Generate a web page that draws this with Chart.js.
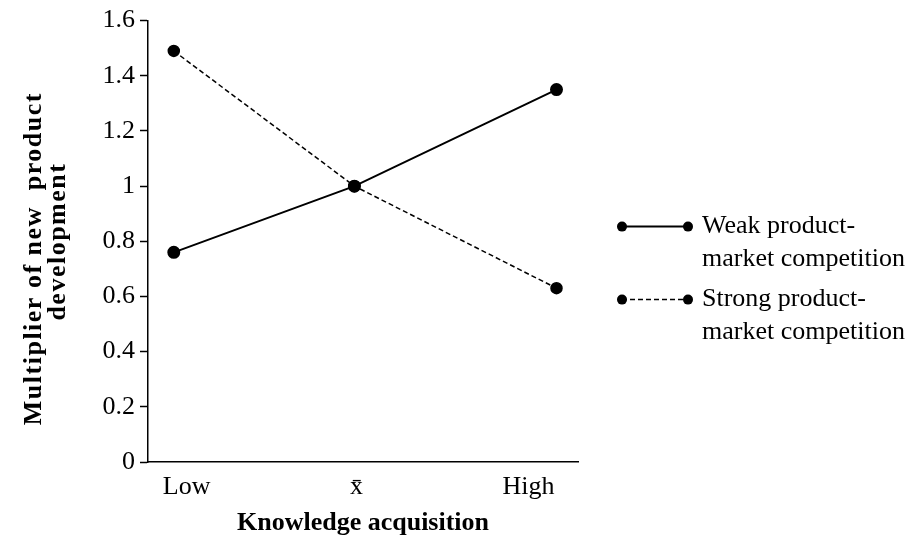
<!DOCTYPE html>
<html>
<head>
<meta charset="utf-8">
<script src="https://cdn.jsdelivr.net/npm/chart.js@4"></script>
<style>
  body { margin: 0; background: #fff; }
  #wrap { width: 918px; height: 539px; }
</style>
</head>
<body>
<div id="wrap"><canvas id="myChart" width="918" height="539"></canvas></div>
<script>
'use strict';

// data
var levelNames = ['Low', 'x\u0304', 'High'];
var levelPos = [0.6, 4.8, 9.5];        // where the points sit on the x axis
var labelPos = [0.9, 4.85, 8.85];      // where the level labels sit
var weakValues = [0.76, 1.0, 1.35];
var strongValues = [1.49, 1.0, 0.63];
var seriesNames = [['Weak product-', 'market competition'], ['Strong product-', 'market competition']];
var yTitle = ['Multiplier of new  product', 'development'];
var yTicks = [0, 0.2, 0.4, 0.6, 0.8, 1, 1.2, 1.4, 1.6];

var FONT = '"Liberation Serif", "Times New Roman", serif';

function pairUp(values) {
  var out = [];
  for (var i = 0; i < values.length; i++) {
    out.push({ x: levelPos[i], y: values[i] });
  }
  return out;
}

// legend with a dot at each end of the sample line, text on two lines
// (also draws the y title, it is letter-spaced wider than chart.js does)
var sideLegend = {
  id: 'sideLegend',
  afterDraw: function(chart) {
    var ctx = chart.ctx;
    var area = chart.chartArea;
    var rows = [206, 279];
    ctx.save();
    chart.data.datasets.forEach(function(ds, i) {
      var y = area.top + rows[i];
      var x1 = area.right + 44, x2 = area.right + 110;
      ctx.strokeStyle = '#000';
      ctx.lineWidth = ds.borderWidth;
      ctx.setLineDash(ds.borderDash || []);
      ctx.beginPath();
      ctx.moveTo(x1, y);
      ctx.lineTo(x2, y);
      ctx.stroke();
      ctx.setLineDash([]);
      ctx.fillStyle = '#000';
      [x1, x2].forEach(function(x) {
        ctx.beginPath();
        ctx.arc(x, y, 5, 0, Math.PI * 2);
        ctx.fill();
      });
      ctx.font = '26px ' + FONT;
      ctx.textBaseline = 'middle';
      ctx.textAlign = 'left';
      seriesNames[i].forEach(function(line, j) {
        ctx.fillText(line, x2 + 14, y + j * 33);
      });
    });
    ctx.restore();

    // y title
    var mids = [238, 221];
    ctx.save();
    ctx.fillStyle = '#000';
    ctx.font = 'bold 26px ' + FONT;
    ctx.letterSpacing = '1.5px';
    ctx.textAlign = 'center';
    ctx.textBaseline = 'middle';
    yTitle.forEach(function(line, j) {
      ctx.save();
      ctx.translate(34 + j * 24, area.top + mids[j]);
      ctx.rotate(-Math.PI / 2);
      ctx.fillText(line, 0, 0);
      ctx.restore();
    });
    ctx.restore();
  }
};

var ctx = document.getElementById('myChart').getContext('2d');
new Chart(ctx, {
  type: 'scatter',
  data: {
    datasets: [{
      label: seriesNames[0].join(' '),
      data: pairUp(weakValues),
      showLine: true,
      borderColor: '#000',
      backgroundColor: '#000',
      borderWidth: 2,
      pointRadius: 5.5,
      pointHoverRadius: 5.5
    }, {
      label: seriesNames[1].join(' '),
      data: pairUp(strongValues),
      showLine: true,
      borderColor: '#000',
      backgroundColor: '#000',
      borderWidth: 1.5,
      borderDash: [5, 3],
      pointRadius: 5.5,
      pointHoverRadius: 5.5
    }]
  },
  options: {
    responsive: false,
    animation: false,
    layout: { padding: { top: 15, right: 340, left: 0, bottom: 0 } },
    plugins: {
      legend: { display: false },
      tooltip: { enabled: false }
    },
    scales: {
      x: {
        type: 'linear',
        min: 0,
        max: 10,
        afterBuildTicks: function(scale) {
          scale.ticks = labelPos.map(function(v) { return { value: v }; });
        },
        afterFit: function(scale) { scale.height = 77; },
        ticks: {
          color: '#000',
          padding: 10,
          maxRotation: 0,
          autoSkip: false,
          font: { family: FONT, size: 26 },
          callback: function(v, i) { return levelNames[i]; }
        },
        grid: { drawOnChartArea: false, drawTicks: false },
        border: { color: '#000', width: 1.5 },
        title: {
          display: true,
          text: 'Knowledge acquisition',
          color: '#000',
          padding: { top: 0, bottom: 0 },
          font: { family: FONT, size: 26, weight: 'bold' }
        }
      },
      y: {
        min: 0,
        max: 1.6,
        afterBuildTicks: function(scale) {
          scale.ticks = yTicks.map(function(v) { return { value: v }; });
        },
        afterFit: function(scale) { scale.width = 148; },
        ticks: {
          color: '#000',
          padding: 5,
          font: { family: FONT, size: 26 },
          callback: function(v) { return String(+v.toFixed(1)); }
        },
        grid: { drawOnChartArea: false, tickLength: 8, color: '#000', tickWidth: 1.5 },
        border: { color: '#000', width: 1.5 },
        title: { display: false }
      }
    }
  },
  plugins: [sideLegend]
});
</script>
</body>
</html>
